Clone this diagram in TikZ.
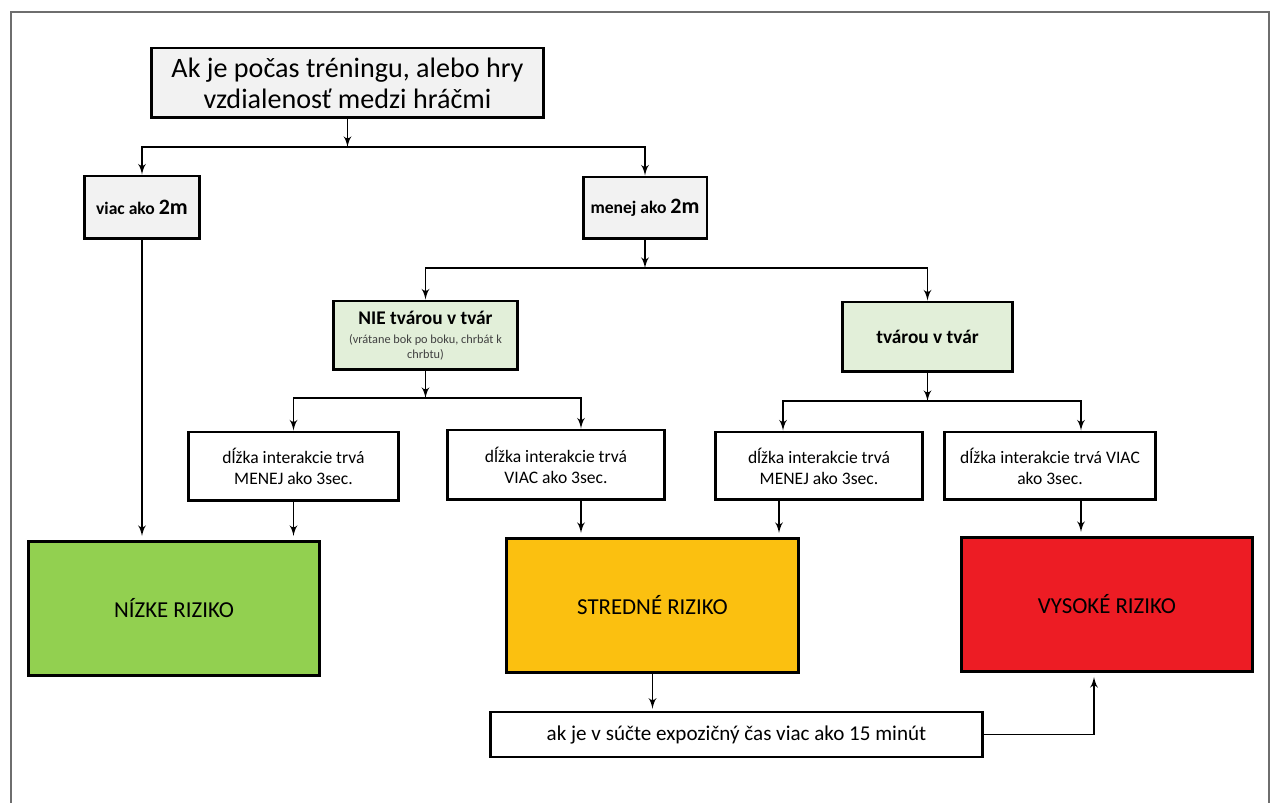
\documentclass[tikz,border=0pt]{standalone}
\usepackage{fontspec}
\setmainfont{Carlito}
\usepackage{tikz}
\usetikzlibrary{arrows}
\usetikzlibrary{positioning}
\definecolor{boxgray}{HTML}{F2F2F2}
\definecolor{boxgreen}{HTML}{E2EFD9}
\definecolor{riskgreen}{HTML}{92D050}
\definecolor{riskamber}{HTML}{FBC010}
\definecolor{riskred}{HTML}{ED1C24}
\definecolor{framegray}{HTML}{6E6E6E}
\newcommand{\smallnote}{\mdseries\fontsize{7}{8}\selectfont\color{darkgray}}
\tikzstyle{line} = [draw, line width=1.1pt, -latex']
\tikzset{
	box/.style={draw=black, line width=1.7pt, align=center, inner sep=2pt},
	askbox/.style={box, fill=boxgray},
	facebox/.style={box, fill=boxgreen},
	timebox/.style={box, fill=white, font=\fontsize{10}{12}\selectfont},
	riskbox/.style={box, minimum width=5.84cm, minimum height=2.7cm, font=\fontsize{13}{15}\selectfont},
}

\begin{document}
\begin{tikzpicture}[x=0.02cm, y=-0.02cm]
	\useasboundingbox (0,0) rectangle (1282,803);
	\draw[framegray, line width=1.1pt] (11,803) -- (11,12) -- (1269,12) -- (1269,803);
	% question and distance
	\node[askbox, minimum width=7.86cm, minimum height=1.4cm, font=\fontsize{16}{17.5}\selectfont] (dist) at (347.5,83) {Ak je počas tréningu, alebo hry\\vzdialenosť medzi hráčmi};
	\node[askbox, minimum width=2.32cm, minimum height=1.26cm] (far) at (142,207.5) {\bfseries\fontsize{10}{12}\selectfont viac ako {\fontsize{12.5}{14}\selectfont 2m}};
	\node[askbox, minimum width=2.48cm, minimum height=1.24cm] (near) at (645,208) {\bfseries\fontsize{10}{12}\selectfont menej ako {\fontsize{12.5}{14}\selectfont 2m}};
	% orientation
	\node[facebox, minimum width=3.7cm, minimum height=1.38cm] (noface) at (425.5,335.5) {\bfseries\fontsize{11}{13}\selectfont NIE tvárou v tvár\\[-1pt]\smallnote (vrátane bok po boku, chrbát k\\[-4pt]\smallnote chrbtu)};
	\node[facebox, minimum width=3.42cm, minimum height=1.4cm, font=\bfseries\fontsize{11}{13}\selectfont] (face) at (927.5,337) {tvárou v tvár};
	% duration
	\node[timebox, minimum width=4.22cm, minimum height=1.38cm] (shortA) at (293.5,466.5) {dĺžka interakcie trvá\\MENEJ ako 3sec.};
	\node[timebox, minimum width=4.36cm, minimum height=1.4cm] (longA) at (556,465) {dĺžka interakcie trvá\\VIAC ako 3sec.};
	\node[timebox, minimum width=4.16cm, minimum height=1.36cm] (shortB) at (819,466) {dĺžka interakcie trvá\\MENEJ ako 3sec.};
	\node[timebox, minimum width=4.24cm, minimum height=1.36cm] (longB) at (1050,466) {dĺžka interakcie trvá VIAC\\ako 3sec.};
	% risk
	\node[riskbox, fill=riskgreen] (low) at (174,608.5) {NÍZKE RIZIKO};
	\node[riskbox, fill=riskamber] (mid) at (652.5,605.5) {STREDNÉ RIZIKO};
	\node[riskbox, fill=riskred] (high) at (1107,604.5) {VYSOKÉ RIZIKO};
	\node[box, fill=white, minimum width=9.86cm, minimum height=0.9cm, font=\fontsize{12}{14}\selectfont] (sum) at (736.5,734.5) {ak je v súčte expozičný čas viac ako 15 minút};
	% junctions
	\coordinate (j1) at (347.5,147);
	\coordinate (j2) at (645,268);
	\coordinate (j3) at (425.5,398);
	\coordinate (j4) at (927.5,401);
	\coordinate (la) at ([xshift=0.5cm]longA.south);
	\coordinate (sb) at ([xshift=-0.8cm]shortB.south);
	\coordinate (lb) at ([xshift=0.62cm]longB.south);
	% connectors
	\path[line] (dist) -- (j1);
	\path[line] (j1) -| (far);
	\path[line] (j1) -| (near);
	\path[line] (near) -- (j2);
	\path[line] (j2) -| (noface);
	\path[line] (j2) -| (face);
	\path[line] (noface) -- (j3);
	\path[line] (j3) -| (shortA);
	\path[line] (j3) -| ([xshift=0.5cm]longA.north);
	\path[line] (face) -- (j4);
	\path[line] (j4) -| ([xshift=-0.72cm]shortB.north);
	\path[line] (j4) -| ([xshift=0.62cm]longB.north);
	\path[line, shorten >=2pt] (far) -- (far |- low.north);
	\path[line, shorten >=2pt] (shortA.south) -- (shortA.south |- low.north);
	\path[line, shorten >=2pt] (la) -- (la |- mid.north);
	\path[line, shorten >=2pt] (sb) -- (sb |- mid.north);
	\path[line, shorten >=2pt] (lb) -- (lb |- high.north);
	\path[line, shorten >=1pt] (mid) -- (mid |- sum.north);
	\path[line, shorten >=2pt] (sum) -| ([xshift=-0.26cm]high.south);
\end{tikzpicture}
\end{document}
